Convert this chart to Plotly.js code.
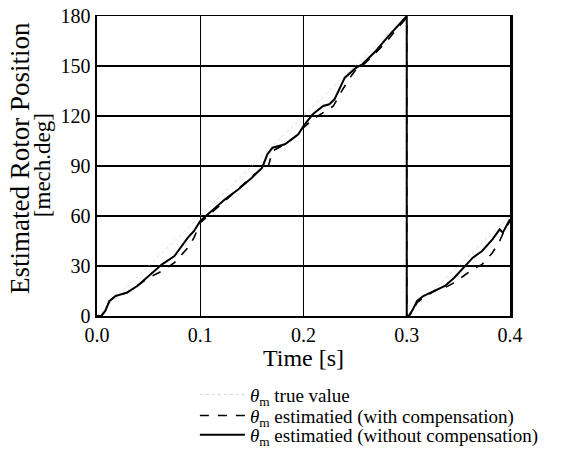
<!DOCTYPE html>
<html>
<head>
<meta charset="utf-8">
<script src="https://cdn.plot.ly/plotly-3.0.1.min.js"></script>
<style>html,body{margin:0;padding:0;background:#fff;}#chart{width:566px;height:450px;}</style>
</head>
<body>
<div id="chart"></div>
<script>
// Time [s] and estimated rotor position [mech.deg]
const trueTime = [0, 0.3, 0.3, 0.4];
const trueValue = [0, 180, 0, 60];

const compTime = [0, 0.004, 0.008, 0.012, 0.018, 0.029, 0.039, 0.050, 0.063, 0.075, 0.088, 0.094, 0.1,
  0.111, 0.124, 0.137, 0.150, 0.160, 0.166, 0.170, 0.182, 0.195, 0.2,
  0.209, 0.219, 0.229, 0.236, 0.245, 0.251, 0.257, 0.270, 0.281, 0.290, 0.3,
  0.3, 0.302, 0.306, 0.310, 0.316, 0.327, 0.337, 0.346, 0.355, 0.364, 0.373, 0.383, 0.390, 0.395, 0.4];
const compValue = [0, 0, 3, 9, 12, 14, 18, 23, 27, 32, 41, 47, 56,
  62, 69, 76, 83, 89, 90, 99, 103, 109, 113,
  118, 122, 126, 134, 143, 148, 150, 158, 165, 172, 179,
  0, 0, 3, 8, 11, 15, 17, 20, 24, 28, 31, 38, 45, 52, 57];

const noCompTime = [0, 0.004, 0.008, 0.012, 0.018, 0.029, 0.039, 0.050, 0.063, 0.075, 0.088, 0.094, 0.1,
  0.111, 0.124, 0.137, 0.150, 0.160, 0.165, 0.170, 0.182, 0.195, 0.2,
  0.209, 0.219, 0.225, 0.230, 0.240, 0.251, 0.257, 0.270, 0.281, 0.290, 0.3,
  0.3, 0.302, 0.306, 0.310, 0.316, 0.327, 0.337, 0.346, 0.355, 0.364, 0.373, 0.383, 0.390, 0.393, 0.4];
const noCompValue = [0, 0, 3, 9, 12, 14, 18, 24, 31, 36, 47, 51, 57,
  63, 70, 76, 83, 89, 97, 101, 103, 109, 114,
  121, 126, 127, 130, 143, 149, 151, 159, 167, 173, 180,
  0, 0, 4, 9, 12, 15, 18, 23, 29, 35, 39, 46, 52, 50, 58];

const xTickVals = [0, 0.1, 0.2, 0.3, 0.4];
const xTickText = ['0.0', '0.1', '0.2', '0.3', '0.4'];
const yTickVals = [0, 30, 60, 90, 120, 150, 180];
const yTitleLines = ['Estimated Rotor Position', '[mech.deg]'];
const seriesNames = [
  '<i>θ</i><sub>m</sub> true value',
  '<i>θ</i><sub>m</sub> estimatied (with compensation)',
  '<i>θ</i><sub>m</sub> estimatied (without compensation)'
];

const serif = 'Liberation Serif';

const traces = [
  {x: trueTime, y: trueValue, mode: 'lines', name: seriesNames[0], legend: 'legend',
   line: {color: '#d0d0d0', width: 0.8, dash: 'dot'}},
  {x: compTime, y: compValue, mode: 'lines', name: seriesNames[1], legend: 'legend2',
   line: {color: '#000', width: 1.6, dash: 'dash'}},
  {x: noCompTime, y: noCompValue, mode: 'lines', name: seriesNames[2], legend: 'legend3',
   line: {color: '#000', width: 2}}
];

function legendAt(yPaper) {
  return {x: 0.237, y: yPaper, xanchor: 'left', yanchor: 'middle', itemwidth: 45, maxheight: 200,
          font: {family: serif, size: 19, color: '#000'}, bgcolor: 'rgba(0,0,0,0)'};
}

const layout = {
  width: 566, height: 450,
  margin: {l: 97, r: 56, t: 16, b: 134, autoexpand: false},
  paper_bgcolor: '#fff', plot_bgcolor: '#fff',
  font: {family: serif, color: '#000', size: 18},
  showlegend: true,
  legend: legendAt(-0.262),
  legend2: legendAt(-0.332),
  legend3: legendAt(-0.396),
  xaxis: {range: [0, 0.4], tickvals: xTickVals, ticktext: xTickText, showgrid: true, gridcolor: '#000', gridwidth: 1.3,
          showline: true, linecolor: '#000', linewidth: 1.5, mirror: true, ticks: '', zeroline: false,
          tickfont: {family: serif, size: 20}, title: {text: 'Time [s]', font: {family: serif, size: 24}, standoff: 2}},
  yaxis: {range: [0, 180], tickvals: yTickVals, showgrid: true, gridcolor: '#000', gridwidth: 1.3,
          showline: true, linecolor: '#000', linewidth: 2.5, mirror: true, ticks: '', zeroline: false,
          tickfont: {family: serif, size: 20}},
  annotations: [
    {text: yTitleLines[0], xref: 'paper', yref: 'paper', x: -0.186, y: 0.527, textangle: -90,
     showarrow: false, font: {family: serif, size: 27}, xanchor: 'center', yanchor: 'middle'},
    {text: yTitleLines[1], xref: 'paper', yref: 'paper', x: -0.133, y: 0.503, textangle: -90,
     showarrow: false, font: {family: serif, size: 23}, xanchor: 'center', yanchor: 'middle'}
  ]
};

Plotly.newPlot('chart', traces, layout, {displayModeBar: false, staticPlot: true});
</script>
</body>
</html>
